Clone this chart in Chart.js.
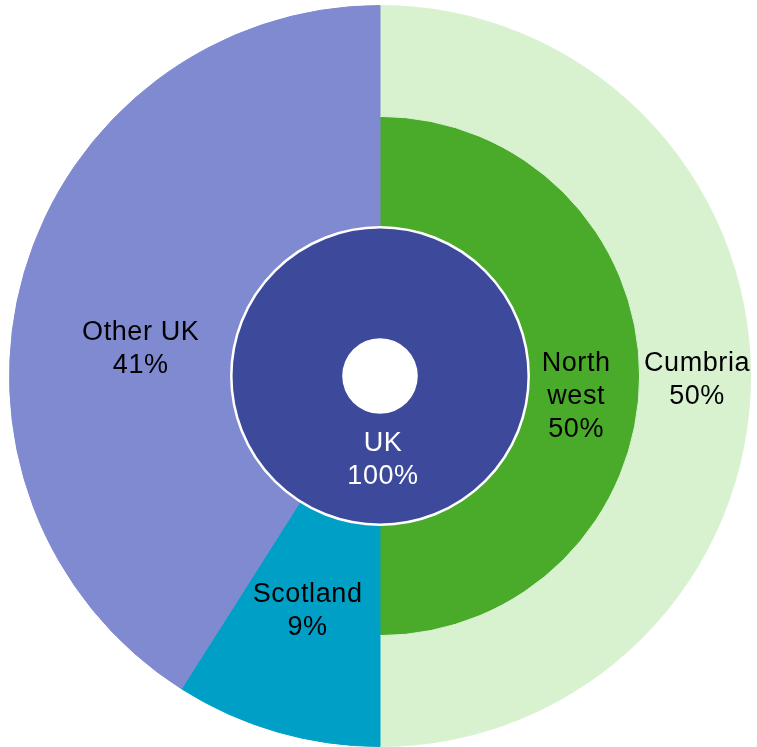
<!DOCTYPE html>
<html>
<head>
<meta charset="utf-8">
<script src="https://cdn.jsdelivr.net/npm/chart.js@4/dist/chart.umd.min.js"></script>
<style>
  html, body { margin: 0; padding: 0; background: #fff; }
  #wrap { width: 757px; height: 747px; position: relative; }
</style>
</head>
<body>
<div id="wrap"><canvas id="chart"></canvas></div>
<script>
// rings, outermost first
const outerLabels = ['Cumbria', 'Scotland', 'Other UK'];
const outerValues = [50, 9, 41];
const outerColors = ['#d8f2d0', '#00a0c6', '#7f8ad0'];

const middleLabels = ['North west', 'Scotland', 'Other UK'];
const middleValues = [50, 9, 41];
const middleColors = ['#4aaa2a', '#00a0c6', '#7f8ad0'];

const innerLabels = ['UK'];
const innerValues = [100];
const innerColors = ['#3d4a9c'];

// text drawn on the slices: [dataset, index, lines, colour, dx, dy, span]
// span = true means the label sits across middle + outer ring
const sliceText = [
    [1, 2, ['Other UK', '41%'], '#000', 10, 45, true],
    [1, 1, ['Scotland', '9%'], '#000', 0, -14, true],
    [1, 0, ['North', 'west', '50%'], '#000', -8, 21, false],
    [0, 0, ['Cumbria', '50%'], '#000', 2, 4, false],
    [2, 0, ['UK', '100%'], '#fff', 3, -9, false]
];

const ringPlugin = {
    id: 'ringText',
    afterDatasetsDraw(chart) {
        const ctx = chart.ctx;
        // white edge around the UK circle
        const uk = chart.getDatasetMeta(2).data[0];
        ctx.save();
        ctx.strokeStyle = '#fff';
        ctx.lineWidth = 2.5;
        ctx.beginPath();
        ctx.arc(uk.x, uk.y, uk.outerRadius, 0, Math.PI * 2);
        ctx.stroke();

        ctx.font = '27px "Liberation Sans", Arial, sans-serif';
        ctx.letterSpacing = '0.6px';
        ctx.textAlign = 'center';
        ctx.textBaseline = 'middle';
        const lineH = 33;
        sliceText.forEach(([ds, idx, lines, color, dx, dy, span]) => {
            const arc = chart.getDatasetMeta(ds).data[idx];
            let p = arc.getCenterPoint();
            if (span) {
                const outer = chart.getDatasetMeta(0).data[idx];
                const r = (arc.innerRadius + outer.outerRadius) / 2;
                const a = (arc.startAngle + arc.endAngle) / 2;
                p = { x: arc.x + Math.cos(a) * r, y: arc.y + Math.sin(a) * r };
            }
            ctx.fillStyle = color;
            const top = p.y + dy - (lines.length - 1) * lineH / 2;
            lines.forEach((t, i) => ctx.fillText(t, p.x + dx, top + i * lineH));
        });
        ctx.restore();
    }
};

new Chart(document.getElementById('chart'), {
    type: 'doughnut',
    data: {
        labels: outerLabels,
        datasets: [
            { label: 'outer', data: outerValues, backgroundColor: outerColors, borderColor: outerColors, borderWidth: 1 },
            { label: 'middle', labels: middleLabels, data: middleValues, backgroundColor: middleColors, borderColor: middleColors, borderWidth: 1 },
            { label: 'inner', labels: innerLabels, data: innerValues, backgroundColor: innerColors, borderWidth: 0 }
        ]
    },
    options: {
        responsive: true,
        maintainAspectRatio: false,
        animation: false,
        cutout: '10.2%',
        layout: { padding: { top: 5, bottom: 0, left: 8, right: 5 } },
        plugins: {
            legend: { display: false },
            tooltip: { enabled: false }
        }
    },
    plugins: [ringPlugin]
});
</script>
</body>
</html>
